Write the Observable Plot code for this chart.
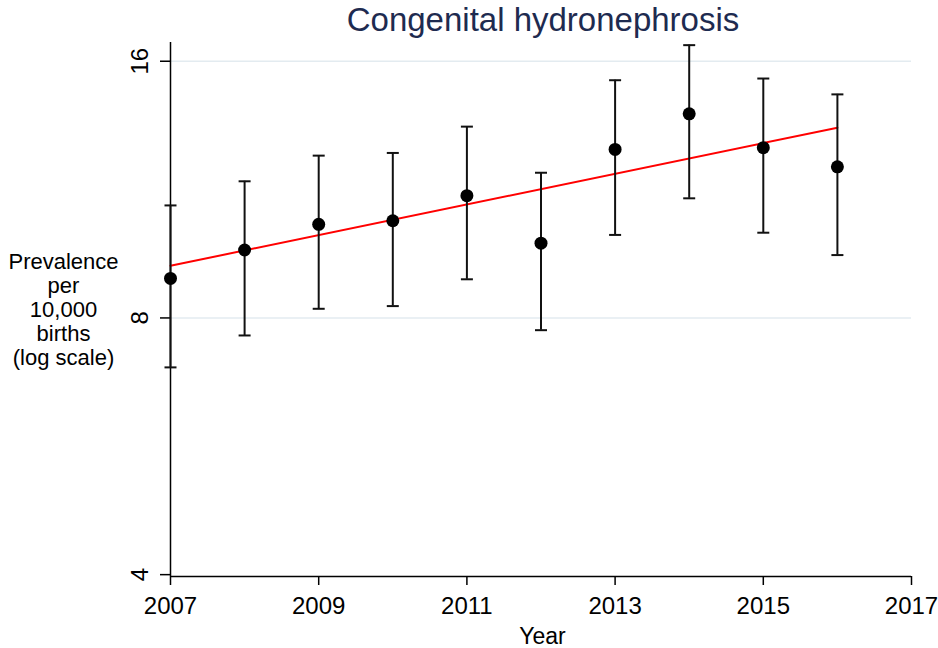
<!DOCTYPE html>
<html>
<head>
<meta charset="utf-8">
<script src="https://cdn.jsdelivr.net/npm/d3@7"></script>
<script src="https://cdn.jsdelivr.net/npm/@observablehq/plot@0.6"></script>
<style>
  html, body { margin: 0; padding: 0; background: #ffffff; }
  #chart svg { display: block; }
</style>
</head>
<body>
<div id="chart"></div>
<script>
const titleText = "Congenital hydronephrosis";
const xLabel = "Year";
const yLabel = "Prevalence\nper\n10,000\nbirths\n(log scale)";

const years      = [2007, 2008, 2009, 2010, 2011, 2012, 2013, 2014, 2015, 2016];
const prevalence = [8.90, 9.61, 10.30, 10.40, 11.13, 9.79, 12.61, 13.88, 12.67, 12.03];
const lower      = [7.00, 7.63, 8.20, 8.26, 8.88, 7.74, 10.01, 11.05, 10.07, 9.48];
const upper      = [10.84, 11.57, 12.40, 12.49, 13.41, 11.84, 15.20, 16.71, 15.27, 14.63];

const trendYears  = [2007, 2016];
const trendValues = [9.21, 13.37];

const xTicks = [2007, 2009, 2011, 2013, 2015, 2017];
const yTicks = [4, 8, 16];
const xDomain = [2007, 2017];
const yDomain = [3.98, 16.83];

const data = years.map((year, i) => ({year, value: prevalence[i], lower: lower[i], upper: upper[i]}));
const trend = trendYears.map((year, i) => ({year, value: trendValues[i]}));

const capSymbol = {
  draw(context, size) {
    const w = Math.sqrt(size / Math.PI);
    context.moveTo(-w, 0);
    context.lineTo(w, 0);
  }
};

const chart = Plot.plot({
  width: 938,
  height: 648,
  marginTop: 42,
  marginBottom: 72,
  marginLeft: 170,
  marginRight: 27,
  x: {domain: xDomain},
  y: {type: "log", domain: yDomain},
  style: {fontFamily: "'Liberation Sans', Arial, sans-serif", background: "#ffffff", color: "#000000"},
  marks: [
    Plot.gridY(yTicks.filter(d => d > yDomain[0] + 0.1), {stroke: "#e3ebf0", strokeOpacity: 1, strokeWidth: 1.5}),
    Plot.ruleY([yDomain[0]], {stroke: "#000", strokeWidth: 1.5}),
    Plot.ruleX([xDomain[0]], {stroke: "#000", strokeWidth: 1.5}),
    Plot.axisX({ticks: xTicks, tickSize: 9, tickPadding: 11, tickFormat: d => String(d), fontSize: 24, label: null, strokeWidth: 1.5}),
    Plot.axisY({ticks: yTicks, tickSize: 10, fill: "none", label: null, strokeWidth: 1.5}),
    Plot.text(yTicks, {y: d => d, text: d => String(d), frameAnchor: "left", dx: -30, rotate: -90, fontSize: 24, textAnchor: "middle", lineAnchor: "middle", fill: "#000"}),
    Plot.line(trend, {x: "year", y: "value", stroke: "#ff0000", strokeWidth: 2}),
    Plot.ruleX(data, {x: "year", y1: "lower", y2: "upper", stroke: "#111", strokeWidth: 2}),
    Plot.dot(data, {x: "year", y: "lower", symbol: capSymbol, r: 6, stroke: "#111", fill: "none", strokeWidth: 2}),
    Plot.dot(data, {x: "year", y: "upper", symbol: capSymbol, r: 6, stroke: "#111", fill: "none", strokeWidth: 2}),
    Plot.dot(data, {x: "year", y: "value", r: 6.5, fill: "#000", stroke: "none"}),
    Plot.text([xLabel], {text: d => d, frameAnchor: "bottom", dx: 1.5, dy: 51, lineAnchor: "top", fontSize: 23, fill: "#000"}),
    Plot.text([titleText], {text: d => d, frameAnchor: "top", dx: 2, dy: -35, lineAnchor: "top", fontSize: 33, fill: "#1e2b50"}),
    Plot.text([yLabel], {text: d => d, frameAnchor: "top-left", dx: -107, dy: 209, lineAnchor: "top", textAnchor: "middle", fontSize: 22, lineHeight: 1.1, fill: "#000"})
  ]
});

document.getElementById("chart").appendChild(chart);
</script>
</body>
</html>
